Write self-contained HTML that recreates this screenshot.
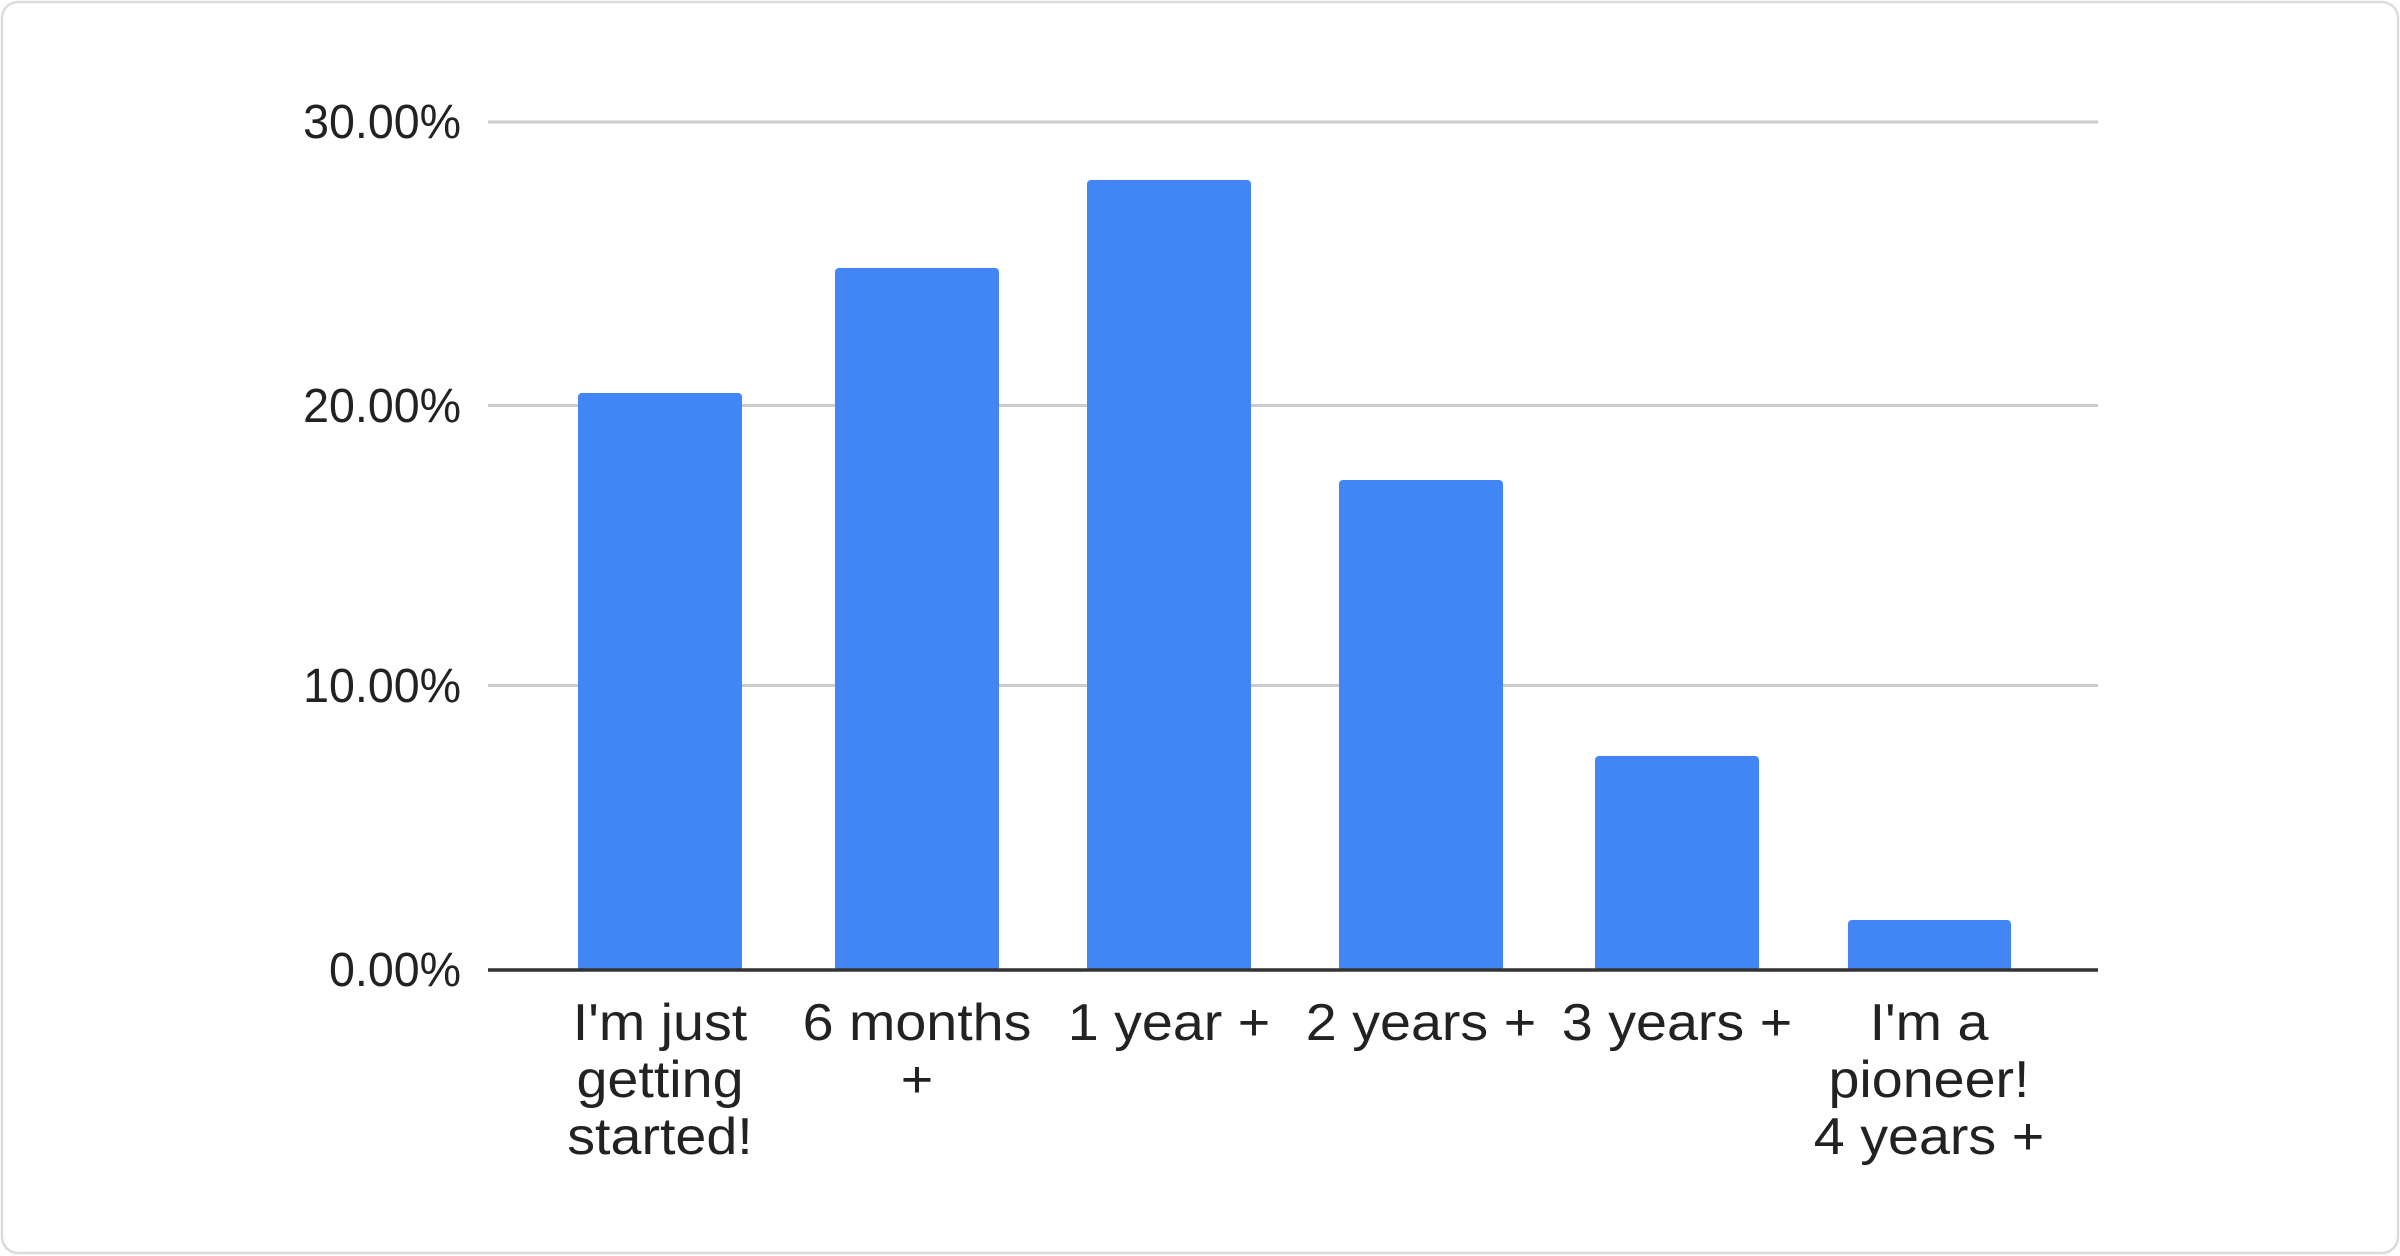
<!DOCTYPE html>
<html><head><meta charset="utf-8"><style>
html,body{margin:0;padding:0;background:#fff;}
svg{display:block;}
text{font-family:"Liberation Sans",Arial,sans-serif;fill:#222;}
</style></head><body>
<svg width="2400" height="1256" viewBox="0 0 2400 1256" xmlns="http://www.w3.org/2000/svg">
<rect x="2" y="2" width="2396" height="1251" rx="16" ry="16" fill="#fff" stroke="#dadce0" stroke-width="2.5"/>
<g stroke="#cccccc" stroke-width="3">
<line x1="488" y1="122" x2="2098" y2="122"/>
<line x1="488" y1="405.5" x2="2098" y2="405.5"/>
<line x1="488" y1="685.5" x2="2098" y2="685.5"/>
</g>
<g fill="#4285f4">
<rect x="578" y="393" width="164" height="578" rx="4"/>
<rect x="835" y="268" width="164" height="703" rx="4"/>
<rect x="1087" y="180" width="164" height="791" rx="4"/>
<rect x="1339" y="480" width="164" height="491" rx="4"/>
<rect x="1595" y="756" width="164" height="215" rx="4"/>
<rect x="1848" y="920" width="163" height="51" rx="4"/>
</g>
<line x1="488" y1="970" x2="2098" y2="970" stroke="#333" stroke-width="3.5"/>
<g font-size="48" text-anchor="end">
<g transform="translate(461,0) scale(0.97,1)">
<text x="0" y="138">30.00%</text>
<text x="0" y="422">20.00%</text>
<text x="0" y="702">10.00%</text>
<text x="0" y="986">0.00%</text>
</g>
</g>
<g font-size="52" text-anchor="middle">
<g transform="translate(660,0) scale(1.07,1)"><text x="0" y="1040">I'm just</text><text x="0" y="1097">getting</text><text x="0" y="1154">started!</text></g>
<g transform="translate(917,0) scale(1.07,1)"><text x="0" y="1040">6 months</text><text x="0" y="1097">+</text></g>
<g transform="translate(1169,0) scale(1.07,1)"><text x="0" y="1040">1 year +</text></g>
<g transform="translate(1421,0) scale(1.07,1)"><text x="0" y="1040">2 years +</text></g>
<g transform="translate(1677,0) scale(1.07,1)"><text x="0" y="1040">3 years +</text></g>
<g transform="translate(1929,0) scale(1.07,1)"><text x="0" y="1040">I'm a</text><text x="0" y="1097">pioneer!</text><text x="0" y="1154">4 years +</text></g>
</g>
</svg>
</body></html>
